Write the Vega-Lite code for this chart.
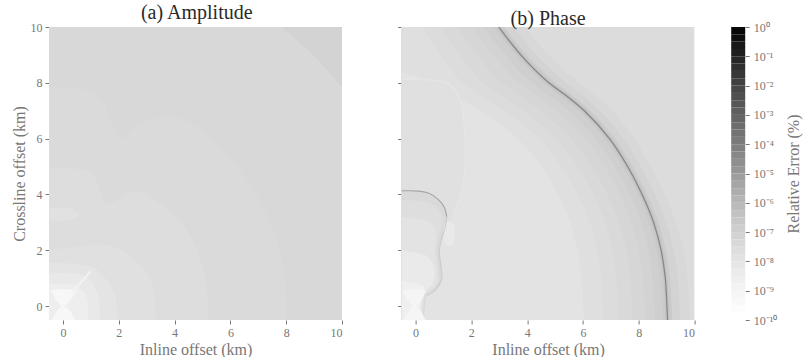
{
"$schema":"https://vega.github.io/schema/vega-lite/v6.json",
"background":"white",
"padding":{"left":11,"top":3,"right":2,"bottom":0},
"spacing":36.6,
"bounds":"flush",
"resolve":{"scale":{"color":"shared","x":"independent","y":"independent"}},
"config":{
 "font":"Liberation Serif",
 "view":{"stroke":null},
 "axis":{"grid":false,"domain":false,"tickColor":"#777","tickSize":4,"labelColor":"#777","titleColor":"#777","labelFontSize":12,"titleFontSize":16,"titleFontWeight":"normal","labelPadding":3,"titlePadding":3,"labelFont":"Liberation Serif","titleFont":"Liberation Serif"},
 "title":{"font":"Liberation Serif","fontSize":20,"fontWeight":"normal","color":"#2a2a2a","offset":-2}
},
"datasets":{
"amp":[
{"id":"a1","err":5.6e-8,"x":-0.5,"y":10},{"id":"a1","err":5.6e-8,"x":10,"y":10},
{"id":"a2","err":3.2e-8,"x":-0.5,"y":12.7},{"id":"a2","err":3.2e-8,"x":7,"y":10.6},{"id":"a2","err":3.2e-8,"x":8,"y":9.86},{"id":"a2","err":3.2e-8,"x":9,"y":8.96},{"id":"a2","err":3.2e-8,"x":10,"y":7.83},
{"id":"a3","err":2.4e-8,"x":-0.5,"y":7.85},{"id":"a3","err":2.4e-8,"x":0.84,"y":7.77},{"id":"a3","err":2.4e-8,"x":1.2,"y":7.6},{"id":"a3","err":2.4e-8,"x":1.49,"y":7.23},{"id":"a3","err":2.4e-8,"x":1.79,"y":6.51},{"id":"a3","err":2.4e-8,"x":2.03,"y":5.97},{"id":"a3","err":2.4e-8,"x":2.25,"y":6.1},{"id":"a3","err":2.4e-8,"x":2.51,"y":6.39},{"id":"a3","err":2.4e-8,"x":3.0,"y":6.65},{"id":"a3","err":2.4e-8,"x":3.5,"y":6.76},{"id":"a3","err":2.4e-8,"x":4.0,"y":6.75},{"id":"a3","err":2.4e-8,"x":4.5,"y":6.61},{"id":"a3","err":2.4e-8,"x":5.0,"y":6.24},{"id":"a3","err":2.4e-8,"x":5.5,"y":5.81},{"id":"a3","err":2.4e-8,"x":6.0,"y":5.29},{"id":"a3","err":2.4e-8,"x":6.5,"y":4.66},{"id":"a3","err":2.4e-8,"x":7.0,"y":3.87},{"id":"a3","err":2.4e-8,"x":7.5,"y":2.78},{"id":"a3","err":2.4e-8,"x":7.8,"y":1.78},{"id":"a3","err":2.4e-8,"x":7.95,"y":0.89},{"id":"a3","err":2.4e-8,"x":8.01,"y":0},{"id":"a3","err":2.4e-8,"x":8.02,"y":-0.5},
{"id":"a4","err":1.8e-8,"x":-0.5,"y":4.96},{"id":"a4","err":1.8e-8,"x":0.4,"y":4.93},{"id":"a4","err":1.8e-8,"x":0.84,"y":4.84},{"id":"a4","err":1.8e-8,"x":1.15,"y":4.6},{"id":"a4","err":1.8e-8,"x":1.35,"y":4.1},{"id":"a4","err":1.8e-8,"x":1.55,"y":3.65},{"id":"a4","err":1.8e-8,"x":1.8,"y":3.72},{"id":"a4","err":1.8e-8,"x":2.27,"y":4.06},{"id":"a4","err":1.8e-8,"x":2.63,"y":4.12},{"id":"a4","err":1.8e-8,"x":3.1,"y":3.95},{"id":"a4","err":1.8e-8,"x":3.58,"y":3.58},{"id":"a4","err":1.8e-8,"x":4.0,"y":3.25},{"id":"a4","err":1.8e-8,"x":4.5,"y":2.6},{"id":"a4","err":1.8e-8,"x":4.8,"y":2.0},{"id":"a4","err":1.8e-8,"x":5.0,"y":1.43},{"id":"a4","err":1.8e-8,"x":5.15,"y":0.72},{"id":"a4","err":1.8e-8,"x":5.2,"y":0},{"id":"a4","err":1.8e-8,"x":5.21,"y":-0.5},
{"id":"a5","err":1.3e-8,"x":-0.5,"y":2.03},{"id":"a5","err":1.3e-8,"x":0.5,"y":2.12},{"id":"a5","err":1.3e-8,"x":1.0,"y":2.2},{"id":"a5","err":1.3e-8,"x":1.55,"y":2.21},{"id":"a5","err":1.3e-8,"x":2.0,"y":2.05},{"id":"a5","err":1.3e-8,"x":2.3,"y":1.88},{"id":"a5","err":1.3e-8,"x":2.7,"y":1.55},{"id":"a5","err":1.3e-8,"x":3.0,"y":1.2},{"id":"a5","err":1.3e-8,"x":3.2,"y":0.75},{"id":"a5","err":1.3e-8,"x":3.3,"y":0.3},{"id":"a5","err":1.3e-8,"x":3.33,"y":-0.5},
{"id":"a6","err":7.8e-9,"x":-0.5,"y":1.55},{"id":"a6","err":7.8e-9,"x":0.5,"y":1.5},{"id":"a6","err":7.8e-9,"x":0.95,"y":1.43},{"id":"a6","err":7.8e-9,"x":1.3,"y":1.22},{"id":"a6","err":7.8e-9,"x":1.55,"y":0.96},{"id":"a6","err":7.8e-9,"x":1.8,"y":0.55},{"id":"a6","err":7.8e-9,"x":1.91,"y":0.2},{"id":"a6","err":7.8e-9,"x":1.95,"y":-0.5},
{"id":"a7","err":3.9e-9,"x":-0.5,"y":1.2},{"id":"a7","err":3.9e-9,"x":0.5,"y":1.15},{"id":"a7","err":3.9e-9,"x":0.9,"y":1.0},{"id":"a7","err":3.9e-9,"x":1.15,"y":0.65},{"id":"a7","err":3.9e-9,"x":1.3,"y":0.2},{"id":"a7","err":3.9e-9,"x":1.32,"y":-0.5},
{"id":"a8","err":2e-9,"x":-0.5,"y":0.8},{"id":"a8","err":2e-9,"x":0.3,"y":0.78},{"id":"a8","err":2e-9,"x":0.7,"y":0.55},{"id":"a8","err":2e-9,"x":0.88,"y":0.2},{"id":"a8","err":2e-9,"x":0.9,"y":-0.5}
],
"pha":[
{"id":"p0","err":2e-8,"y":-0.5,"x":10},{"id":"p0","err":2e-8,"y":10.5,"x":10},
{"id":"p1","err":3.2e-8,"y":-0.5,"x":9.83},{"id":"p1","err":3.2e-8,"y":1.5,"x":9.69},{"id":"p1","err":3.2e-8,"y":3.5,"x":9.15},{"id":"p1","err":3.2e-8,"y":5,"x":8.42},{"id":"p1","err":3.2e-8,"y":6,"x":7.83},{"id":"p1","err":3.2e-8,"y":7,"x":7.05},{"id":"p1","err":3.2e-8,"y":7.5,"x":6.51},{"id":"p1","err":3.2e-8,"y":8,"x":5.86},{"id":"p1","err":3.2e-8,"y":8.5,"x":5.28},{"id":"p1","err":3.2e-8,"y":9,"x":4.77},{"id":"p1","err":3.2e-8,"y":10,"x":3.94},
{"id":"p2","err":5.6e-8,"y":-0.5,"x":9.48},{"id":"p2","err":5.6e-8,"y":1.5,"x":9.34},{"id":"p2","err":5.6e-8,"y":3.5,"x":8.80},{"id":"p2","err":5.6e-8,"y":5,"x":8.06},{"id":"p2","err":5.6e-8,"y":6,"x":7.45},{"id":"p2","err":5.6e-8,"y":7,"x":6.61},{"id":"p2","err":5.6e-8,"y":7.5,"x":6.05},{"id":"p2","err":5.6e-8,"y":8,"x":5.39},{"id":"p2","err":5.6e-8,"y":8.5,"x":4.83},{"id":"p2","err":5.6e-8,"y":9,"x":4.33},{"id":"p2","err":5.6e-8,"y":10,"x":3.52},
{"id":"p3","err":1.3e-7,"y":-0.5,"x":9.20},{"id":"p3","err":1.3e-7,"y":1.5,"x":9.06},{"id":"p3","err":1.3e-7,"y":3.5,"x":8.52},{"id":"p3","err":1.3e-7,"y":5,"x":7.78},{"id":"p3","err":1.3e-7,"y":6,"x":7.14},{"id":"p3","err":1.3e-7,"y":7,"x":6.26},{"id":"p3","err":1.3e-7,"y":7.5,"x":5.68},{"id":"p3","err":1.3e-7,"y":8,"x":5.01},{"id":"p3","err":1.3e-7,"y":8.5,"x":4.46},{"id":"p3","err":1.3e-7,"y":9,"x":3.98},{"id":"p3","err":1.3e-7,"y":10,"x":3.18},
{"id":"p4","err":8.7e-8,"y":-0.5,"x":8.86},{"id":"p4","err":8.7e-8,"y":1.5,"x":8.72},{"id":"p4","err":8.7e-8,"y":3.5,"x":8.18},{"id":"p4","err":8.7e-8,"y":5,"x":7.42},{"id":"p4","err":8.7e-8,"y":6,"x":6.76},{"id":"p4","err":8.7e-8,"y":7,"x":5.84},{"id":"p4","err":8.7e-8,"y":7.5,"x":5.22},{"id":"p4","err":8.7e-8,"y":8,"x":4.55},{"id":"p4","err":8.7e-8,"y":8.5,"x":4.02},{"id":"p4","err":8.7e-8,"y":9,"x":3.56},{"id":"p4","err":8.7e-8,"y":10,"x":2.78},
{"id":"p5","err":5.6e-8,"y":-0.5,"x":8.58},{"id":"p5","err":5.6e-8,"y":1.5,"x":8.44},{"id":"p5","err":5.6e-8,"y":3.5,"x":7.90},{"id":"p5","err":5.6e-8,"y":5,"x":7.14},{"id":"p5","err":5.6e-8,"y":6,"x":6.45},{"id":"p5","err":5.6e-8,"y":7,"x":5.49},{"id":"p5","err":5.6e-8,"y":7.5,"x":4.85},{"id":"p5","err":5.6e-8,"y":8,"x":4.17},{"id":"p5","err":5.6e-8,"y":8.5,"x":3.65},{"id":"p5","err":5.6e-8,"y":9,"x":3.21},{"id":"p5","err":5.6e-8,"y":10,"x":2.44},
{"id":"p6","err":4e-8,"y":-0.5,"x":8.23},{"id":"p6","err":4e-8,"y":1.5,"x":8.09},{"id":"p6","err":4e-8,"y":3.5,"x":7.55},{"id":"p6","err":4e-8,"y":5,"x":6.78},{"id":"p6","err":4e-8,"y":6,"x":6.07},{"id":"p6","err":4e-8,"y":7,"x":5.05},{"id":"p6","err":4e-8,"y":7.5,"x":4.39},{"id":"p6","err":4e-8,"y":8,"x":3.70},{"id":"p6","err":4e-8,"y":8.5,"x":3.20},{"id":"p6","err":4e-8,"y":9,"x":2.77},{"id":"p6","err":4e-8,"y":10,"x":2.02},
{"id":"p7","err":2.8e-8,"y":-0.5,"x":7.78},{"id":"p7","err":2.8e-8,"y":1.5,"x":7.64},{"id":"p7","err":2.8e-8,"y":3.5,"x":7.10},{"id":"p7","err":2.8e-8,"y":5,"x":6.31},{"id":"p7","err":2.8e-8,"y":6,"x":5.57},{"id":"p7","err":2.8e-8,"y":7,"x":4.49},{"id":"p7","err":2.8e-8,"y":7.5,"x":3.79},{"id":"p7","err":2.8e-8,"y":8,"x":3.09},{"id":"p7","err":2.8e-8,"y":8.5,"x":2.61},{"id":"p7","err":2.8e-8,"y":9,"x":2.21},{"id":"p7","err":2.8e-8,"y":10,"x":1.48},
{"id":"p8","err":2e-8,"y":-0.5,"x":7.28},{"id":"p8","err":2e-8,"y":1.5,"x":7.14},{"id":"p8","err":2e-8,"y":3.5,"x":6.60},{"id":"p8","err":2e-8,"y":5,"x":5.80},{"id":"p8","err":2e-8,"y":6,"x":5.02},{"id":"p8","err":2e-8,"y":7,"x":3.86},{"id":"p8","err":2e-8,"y":7.5,"x":3.12},{"id":"p8","err":2e-8,"y":8,"x":2.42},{"id":"p8","err":2e-8,"y":8.5,"x":1.96},{"id":"p8","err":2e-8,"y":9,"x":1.58},{"id":"p8","err":2e-8,"y":10,"x":0.88},
{"id":"p9","err":1.45e-8,"y":-0.5,"x":6.73},{"id":"p9","err":1.45e-8,"y":1.5,"x":6.59},{"id":"p9","err":1.45e-8,"y":3.5,"x":6.05},{"id":"p9","err":1.45e-8,"y":5,"x":5.23},{"id":"p9","err":1.45e-8,"y":6,"x":4.42},{"id":"p9","err":1.45e-8,"y":7,"x":3.17},{"id":"p9","err":1.45e-8,"y":7.5,"x":2.39},{"id":"p9","err":1.45e-8,"y":8,"x":1.67},{"id":"p9","err":1.45e-8,"y":8.5,"x":1.25},{"id":"p9","err":1.45e-8,"y":9,"x":0.89},{"id":"p9","err":1.45e-8,"y":10,"x":0.22},
{"id":"p10","err":9.1e-9,"y":-0.5,"x":6.03},{"id":"p10","err":9.1e-9,"y":1.5,"x":5.89},{"id":"p10","err":9.1e-9,"y":3.5,"x":5.35},{"id":"p10","err":9.1e-9,"y":5,"x":4.51},{"id":"p10","err":9.1e-9,"y":6,"x":3.65},{"id":"p10","err":9.1e-9,"y":7,"x":2.30},{"id":"p10","err":9.1e-9,"y":7.5,"x":1.46},{"id":"p10","err":9.1e-9,"y":8,"x":0.73},{"id":"p10","err":9.1e-9,"y":8.5,"x":-0.62},{"id":"p10","err":9.1e-9,"y":9,"x":-0.7},{"id":"p10","err":9.1e-9,"y":10,"x":-0.8},
{"id":"p11","err":1.3e-8,"y":2.3,"x":-0.5},{"id":"p11","err":1.3e-8,"y":2.4,"x":1.0},{"id":"p11","err":1.3e-8,"y":3.0,"x":1.3},{"id":"p11","err":1.3e-8,"y":3.5,"x":1.45},{"id":"p11","err":1.3e-8,"y":4.0,"x":1.6},{"id":"p11","err":1.3e-8,"y":4.5,"x":1.72},{"id":"p11","err":1.3e-8,"y":5.0,"x":1.78},{"id":"p11","err":1.3e-8,"y":6.0,"x":1.77},{"id":"p11","err":1.3e-8,"y":7.0,"x":1.68},{"id":"p11","err":1.3e-8,"y":7.5,"x":1.55},{"id":"p11","err":1.3e-8,"y":7.8,"x":1.38},{"id":"p11","err":1.3e-8,"y":8.02,"x":1.05},{"id":"p11","err":1.3e-8,"y":8.1,"x":0.5},{"id":"p11","err":1.3e-8,"y":8.12,"x":-0.5},
{"id":"p12","err":2.8e-8,"y":-0.5,"x":0.30},{"id":"p12","err":2.8e-8,"y":0.0,"x":0.34},{"id":"p12","err":2.8e-8,"y":0.36,"x":0.40},{"id":"p12","err":2.8e-8,"y":0.6,"x":0.72},{"id":"p12","err":2.8e-8,"y":0.96,"x":0.95},{"id":"p12","err":2.8e-8,"y":1.55,"x":0.90},{"id":"p12","err":2.8e-8,"y":2.03,"x":0.84},{"id":"p12","err":2.8e-8,"y":2.51,"x":0.95},{"id":"p12","err":2.8e-8,"y":3.11,"x":1.13},{"id":"p12","err":2.8e-8,"y":3.47,"x":1.08},{"id":"p12","err":2.8e-8,"y":3.88,"x":0.72},{"id":"p12","err":2.8e-8,"y":4.05,"x":0.30},{"id":"p12","err":2.8e-8,"y":4.12,"x":0.0},{"id":"p12","err":2.8e-8,"y":4.13,"x":-0.5},
{"id":"p13","err":1.6e-8,"y":-0.5,"x":0.26},{"id":"p13","err":1.6e-8,"y":0.36,"x":0.34},{"id":"p13","err":1.6e-8,"y":0.6,"x":0.62},{"id":"p13","err":1.6e-8,"y":1.0,"x":0.86},{"id":"p13","err":1.6e-8,"y":2.0,"x":0.76},{"id":"p13","err":1.6e-8,"y":2.5,"x":0.86},{"id":"p13","err":1.6e-8,"y":3.1,"x":0.98},{"id":"p13","err":1.6e-8,"y":3.5,"x":0.8},{"id":"p13","err":1.6e-8,"y":3.75,"x":0.3},{"id":"p13","err":1.6e-8,"y":3.8,"x":-0.5},
{"id":"p14","err":9.1e-9,"y":-0.5,"x":0.22},{"id":"p14","err":9.1e-9,"y":0.4,"x":0.3},{"id":"p14","err":9.1e-9,"y":0.7,"x":0.7},{"id":"p14","err":9.1e-9,"y":1.0,"x":0.8},{"id":"p14","err":9.1e-9,"y":2.0,"x":0.7},{"id":"p14","err":9.1e-9,"y":2.6,"x":0.75},{"id":"p14","err":9.1e-9,"y":3.0,"x":0.55},{"id":"p14","err":9.1e-9,"y":3.2,"x":-0.5},
{"id":"p15","err":3.5e-9,"y":-0.5,"x":0.18},{"id":"p15","err":3.5e-9,"y":0.4,"x":0.25},{"id":"p15","err":3.5e-9,"y":0.8,"x":0.6},{"id":"p15","err":3.5e-9,"y":1.2,"x":0.7},{"id":"p15","err":3.5e-9,"y":1.8,"x":0.4},{"id":"p15","err":3.5e-9,"y":2.0,"x":-0.5},
{"id":"p16","err":1.7e-9,"y":-0.5,"x":0.15},{"id":"p16","err":1.7e-9,"y":0.3,"x":0.2},{"id":"p16","err":1.7e-9,"y":0.7,"x":0.3},{"id":"p16","err":1.7e-9,"y":0.9,"x":-0.5}
],
"blob":[
{"p":"A","id":"ae","err":1.15e-8,"x":-0.5,"y":3.47,"y2":3.12},{"p":"A","id":"ae","err":1.15e-8,"x":-0.2,"y":3.53,"y2":3.06},{"p":"A","id":"ae","err":1.15e-8,"x":0.1,"y":3.53,"y2":3.06},{"p":"A","id":"ae","err":1.15e-8,"x":0.4,"y":3.45,"y2":3.13},{"p":"A","id":"ae","err":1.15e-8,"x":0.6,"y":3.3,"y2":3.28},
{"p":"A","id":"abt","err":4.7e-10,"x":-0.42,"y":0.56,"y2":0.55},{"p":"A","id":"abt","err":4.7e-10,"x":-0.2,"y":0.6,"y2":0.15},{"p":"A","id":"abt","err":4.7e-10,"x":0,"y":0.6,"y2":0},{"p":"A","id":"abt","err":4.7e-10,"x":0.2,"y":0.6,"y2":0.12},{"p":"A","id":"abt","err":4.7e-10,"x":0.48,"y":0.56,"y2":0.55},
{"p":"A","id":"abb","err":4.7e-10,"x":-0.42,"y":-0.55,"y2":-0.6},{"p":"A","id":"abb","err":4.7e-10,"x":-0.2,"y":-0.15,"y2":-0.6},{"p":"A","id":"abb","err":4.7e-10,"x":0,"y":0,"y2":-0.6},{"p":"A","id":"abb","err":4.7e-10,"x":0.2,"y":-0.12,"y2":-0.6},{"p":"A","id":"abb","err":4.7e-10,"x":0.48,"y":-0.55,"y2":-0.6},
{"p":"B","id":"pe","err":3.9e-9,"x":0.98,"y":2.6,"y2":2.6},{"p":"B","id":"pe","err":3.9e-9,"x":1.05,"y":2.95,"y2":2.25},{"p":"B","id":"pe","err":3.9e-9,"x":1.2,"y":3.05,"y2":2.15},{"p":"B","id":"pe","err":3.9e-9,"x":1.35,"y":2.95,"y2":2.25},{"p":"B","id":"pe","err":3.9e-9,"x":1.42,"y":2.6,"y2":2.6},
{"p":"B","id":"pbt","err":6.8e-10,"x":-0.45,"y":0.56,"y2":0.5},{"p":"B","id":"pbt","err":6.8e-10,"x":-0.2,"y":0.6,"y2":0.12},{"p":"B","id":"pbt","err":6.8e-10,"x":-0.05,"y":0.6,"y2":0},{"p":"B","id":"pbt","err":6.8e-10,"x":0.15,"y":0.6,"y2":0.12},{"p":"B","id":"pbt","err":6.8e-10,"x":0.36,"y":0.56,"y2":0.5},
{"p":"B","id":"pbb","err":6.8e-10,"x":-0.45,"y":-0.5,"y2":-0.6},{"p":"B","id":"pbb","err":6.8e-10,"x":-0.2,"y":-0.12,"y2":-0.6},{"p":"B","id":"pbb","err":6.8e-10,"x":-0.05,"y":0,"y2":-0.6},{"p":"B","id":"pbb","err":6.8e-10,"x":0.15,"y":-0.12,"y2":-0.6},{"p":"B","id":"pbb","err":6.8e-10,"x":0.36,"y":-0.5,"y2":-0.6}
],
"crv":[
{"p":"A","id":"as","err":1.15e-9,"x":1.0,"y":1.25},{"p":"A","id":"as","err":1.15e-9,"x":0.65,"y":0.85},{"p":"A","id":"as","err":1.15e-9,"x":0.3,"y":0.45},
{"p":"B","id":"lt","err":3.3e-6,"x":-0.5,"y":4.13},{"p":"B","id":"lt","err":3.3e-6,"x":0.12,"y":4.12},{"p":"B","id":"lt","err":3.3e-6,"x":0.5,"y":4.03},{"p":"B","id":"lt","err":3.3e-6,"x":0.8,"y":3.83},{"p":"B","id":"lt","err":3.3e-6,"x":1.02,"y":3.56},{"p":"B","id":"lt","err":3.3e-6,"x":1.12,"y":3.2},
{"p":"B","id":"ls","err":1.3e-7,"x":1.12,"y":3.2},{"p":"B","id":"ls","err":1.3e-7,"x":1.06,"y":2.8},{"p":"B","id":"ls","err":1.3e-7,"x":0.93,"y":2.4},{"p":"B","id":"ls","err":1.3e-7,"x":0.85,"y":2.0},{"p":"B","id":"ls","err":1.3e-7,"x":0.9,"y":1.5},{"p":"B","id":"ls","err":1.3e-7,"x":0.94,"y":1.0},{"p":"B","id":"ls","err":1.3e-7,"x":0.75,"y":0.62},{"p":"B","id":"ls","err":1.3e-7,"x":0.42,"y":0.38},
{"p":"B","id":"kl","err":6e-9,"x":-0.5,"y":8.12},{"p":"B","id":"kl","err":6e-9,"x":0.5,"y":8.1},{"p":"B","id":"kl","err":6e-9,"x":1.05,"y":8.02},{"p":"B","id":"kl","err":6e-9,"x":1.38,"y":7.8},{"p":"B","id":"kl","err":6e-9,"x":1.55,"y":7.5},{"p":"B","id":"kl","err":6e-9,"x":1.68,"y":7.0},{"p":"B","id":"kl","err":6e-9,"x":1.77,"y":6.0},{"p":"B","id":"kl","err":6e-9,"x":1.78,"y":5.0},{"p":"B","id":"kl","err":6e-9,"x":1.72,"y":4.5},{"p":"B","id":"kl","err":6e-9,"x":1.6,"y":4.0},{"p":"B","id":"kl","err":6e-9,"x":1.45,"y":3.5},{"p":"B","id":"kl","err":6e-9,"x":1.3,"y":3.0},
{"p":"R","id":"rh","err":3e-7,"x":9.03,"y":-0.5},{"p":"R","id":"rh","err":3e-7,"x":9.01,"y":0},{"p":"R","id":"rh","err":3e-7,"x":8.95,"y":1},{"p":"R","id":"rh","err":3e-7,"x":8.80,"y":2},{"p":"R","id":"rh","err":3e-7,"x":8.53,"y":3},{"p":"R","id":"rh","err":3e-7,"x":8.12,"y":4},{"p":"R","id":"rh","err":3e-7,"x":7.60,"y":5},{"p":"R","id":"rh","err":3e-7,"x":6.95,"y":6},{"p":"R","id":"rh","err":3e-7,"x":6.05,"y":7},{"p":"R","id":"rh","err":3e-7,"x":5.45,"y":7.5},{"p":"R","id":"rh","err":3e-7,"x":4.78,"y":8},{"p":"R","id":"rh","err":3e-7,"x":4.24,"y":8.5},{"p":"R","id":"rh","err":3e-7,"x":3.77,"y":9},{"p":"R","id":"rh","err":3e-7,"x":3.36,"y":9.5},{"p":"R","id":"rh","err":3e-7,"x":2.98,"y":10},
{"p":"C","id":"rc","err":4e-5,"x":9.03,"y":-0.5},{"p":"C","id":"rc","err":4e-5,"x":9.01,"y":0},{"p":"C","id":"rc","err":4e-5,"x":8.95,"y":1},{"p":"C","id":"rc","err":4e-5,"x":8.80,"y":2},{"p":"C","id":"rc","err":4e-5,"x":8.53,"y":3},{"p":"C","id":"rc","err":4e-5,"x":8.12,"y":4},{"p":"C","id":"rc","err":4e-5,"x":7.60,"y":5},{"p":"C","id":"rc","err":4e-5,"x":6.95,"y":6},{"p":"C","id":"rc","err":4e-5,"x":6.05,"y":7},{"p":"C","id":"rc","err":4e-5,"x":5.45,"y":7.5},{"p":"C","id":"rc","err":4e-5,"x":4.78,"y":8},{"p":"C","id":"rc","err":4e-5,"x":4.24,"y":8.5},{"p":"C","id":"rc","err":4e-5,"x":3.77,"y":9},{"p":"C","id":"rc","err":4e-5,"x":3.36,"y":9.5},{"p":"C","id":"rc","err":4e-5,"x":2.98,"y":10}
],
"cb":[
{"lo":1e-10,"hi":1.778e-10},{"lo":1.778e-10,"hi":3.162e-10},{"lo":3.162e-10,"hi":5.623e-10},{"lo":5.623e-10,"hi":1e-9},
{"lo":1e-9,"hi":1.778e-9},{"lo":1.778e-9,"hi":3.162e-9},{"lo":3.162e-9,"hi":5.623e-9},{"lo":5.623e-9,"hi":1e-8},
{"lo":1e-8,"hi":1.778e-8},{"lo":1.778e-8,"hi":3.162e-8},{"lo":3.162e-8,"hi":5.623e-8},{"lo":5.623e-8,"hi":1e-7},
{"lo":1e-7,"hi":1.778e-7},{"lo":1.778e-7,"hi":3.162e-7},{"lo":3.162e-7,"hi":5.623e-7},{"lo":5.623e-7,"hi":1e-6},
{"lo":1e-6,"hi":1.778e-6},{"lo":1.778e-6,"hi":3.162e-6},{"lo":3.162e-6,"hi":5.623e-6},{"lo":5.623e-6,"hi":1e-5},
{"lo":1e-5,"hi":1.778e-5},{"lo":1.778e-5,"hi":3.162e-5},{"lo":3.162e-5,"hi":5.623e-5},{"lo":5.623e-5,"hi":1e-4},
{"lo":1e-4,"hi":1.778e-4},{"lo":1.778e-4,"hi":3.162e-4},{"lo":3.162e-4,"hi":5.623e-4},{"lo":5.623e-4,"hi":1e-3},
{"lo":1e-3,"hi":1.778e-3},{"lo":1.778e-3,"hi":3.162e-3},{"lo":3.162e-3,"hi":5.623e-3},{"lo":5.623e-3,"hi":0.01},
{"lo":0.01,"hi":0.01778},{"lo":0.01778,"hi":0.03162},{"lo":0.03162,"hi":0.05623},{"lo":0.05623,"hi":0.1},
{"lo":0.1,"hi":0.1778},{"lo":0.1778,"hi":0.3162},{"lo":0.3162,"hi":0.5623},{"lo":0.5623,"hi":1}
]
},
"hconcat":[
{
 "width":315.5,"height":293,
 "title":{"text":"(a) Amplitude","dx":-10},
 "encoding":{
  "x":{"field":"x","type":"quantitative","stack":null,"scale":{"domain":[-0.5,10],"range":[0,293],"nice":false,"zero":false},"axis":{"values":[0,2,4,6,8,10],"title":"Inline offset (km)"}},
  "y":{"field":"y","type":"quantitative","stack":null,"scale":{"domain":[-0.5,10],"nice":false,"zero":false},"axis":{"values":[0,2,4,6,8,10],"title":"Crossline offset (km)"}},
  "color":{"field":"err","type":"quantitative","scale":{"type":"log","domain":[1e-10,1e-9,1e-8,1e-7,1e-6,1e-5,1e-4,0.001,0.01,0.1,1],"range":["#ffffff","#f3f3f3","#e2e2e2","#cecece","#b5b5b5","#969696","#7a7a7a","#5f5f5f","#404040","#1e1e1e","#000000"],"interpolate":"rgb"},"legend":null}
 },
 "layer":[
  {"data":{"name":"amp"},"mark":{"type":"area","orient":"vertical","interpolate":"monotone","clip":true},"encoding":{"y2":{"datum":-0.5},"detail":{"field":"id"}}},
  {"data":{"name":"blob"},"transform":[{"filter":"datum.p == 'A'"}],"mark":{"type":"area","orient":"vertical","interpolate":"monotone","clip":true},"encoding":{"y2":{"field":"y2"},"detail":{"field":"id"}}},
  {"data":{"name":"crv"},"transform":[{"filter":"datum.p == 'A'"}],"mark":{"type":"line","interpolate":"catmull-rom","clip":true,"strokeWidth":2},"encoding":{"detail":{"field":"id"},"order":{"field":"y","sort":"descending"}}}
 ]
},
{
 "width":293,"height":293,
 "title":"(b) Phase",
 "encoding":{
  "x":{"field":"x","type":"quantitative","stack":null,"scale":{"domain":[-0.5,10],"nice":false,"zero":false},"axis":{"values":[0,2,4,6,8,10],"title":"Inline offset (km)"}},
  "y":{"field":"y","type":"quantitative","stack":null,"scale":{"domain":[-0.5,10],"nice":false,"zero":false},"axis":{"values":[0,2,4,6,8,10],"labels":false,"title":null}},
  "color":{"field":"err","type":"quantitative","scale":{"type":"log","domain":[1e-10,1e-9,1e-8,1e-7,1e-6,1e-5,1e-4,0.001,0.01,0.1,1],"range":["#ffffff","#f3f3f3","#e2e2e2","#cecece","#b5b5b5","#969696","#7a7a7a","#5f5f5f","#404040","#1e1e1e","#000000"],"interpolate":"rgb"},"legend":null}
 },
 "layer":[
  {"data":{"name":"pha"},"mark":{"type":"area","orient":"horizontal","interpolate":"monotone","clip":true},"encoding":{"x2":{"datum":-0.5},"detail":{"field":"id"}}},
  {"data":{"name":"blob"},"transform":[{"filter":"datum.p == 'B'"}],"mark":{"type":"area","orient":"vertical","interpolate":"monotone","clip":true},"encoding":{"y2":{"field":"y2"},"detail":{"field":"id"}}},
  {"data":{"name":"crv"},"transform":[{"filter":"datum.p == 'B'"}],"mark":{"type":"line","interpolate":"catmull-rom","clip":true,"strokeWidth":1.1},"encoding":{"detail":{"field":"id"},"order":{"field":"y","sort":"descending"}}},
  {"data":{"name":"crv"},"transform":[{"filter":"datum.p == 'R'"}],"mark":{"type":"line","interpolate":"catmull-rom","clip":true,"strokeWidth":4},"encoding":{"detail":{"field":"id"},"order":{"field":"y","sort":"descending"}}},
  {"data":{"name":"crv"},"transform":[{"filter":"datum.p == 'C'"}],"mark":{"type":"line","interpolate":"catmull-rom","clip":true,"strokeWidth":1.2},"encoding":{"detail":{"field":"id"},"order":{"field":"y","sort":"descending"}}}
 ]
},
{
 "width":14,"height":293,
 "data":{"name":"cb"},
 "mark":{"type":"rect"},
 "encoding":{
  "y":{"field":"lo","type":"quantitative","scale":{"type":"log","domain":[1e-10,1],"nice":false},"axis":{"orient":"right","values":[1e-10,1e-9,1e-8,1e-7,1e-6,1e-5,1e-4,0.001,0.01,0.1,1],"labelExpr":"['10⁰','10⁻¹','10⁻²','10⁻³','10⁻⁴','10⁻⁵','10⁻⁶','10⁻⁷','10⁻⁸','10⁻⁹','10⁻¹⁰'][round(-log(datum.value)/LN10)]","labelFontSize":12,"labelPadding":4,"title":"Relative Error (%)","titleAngle":270,"titleBaseline":"top","titlePadding":9}},
  "y2":{"field":"hi"},
  "color":{"field":"lo","type":"quantitative","scale":{"type":"log","domain":[1e-10,1e-9,1e-8,1e-7,1e-6,1e-5,1e-4,0.001,0.01,0.1,1],"range":["#ffffff","#f3f3f3","#e2e2e2","#cecece","#b5b5b5","#969696","#7a7a7a","#5f5f5f","#404040","#1e1e1e","#000000"],"interpolate":"rgb"},"legend":null}
 }
}
]
}
